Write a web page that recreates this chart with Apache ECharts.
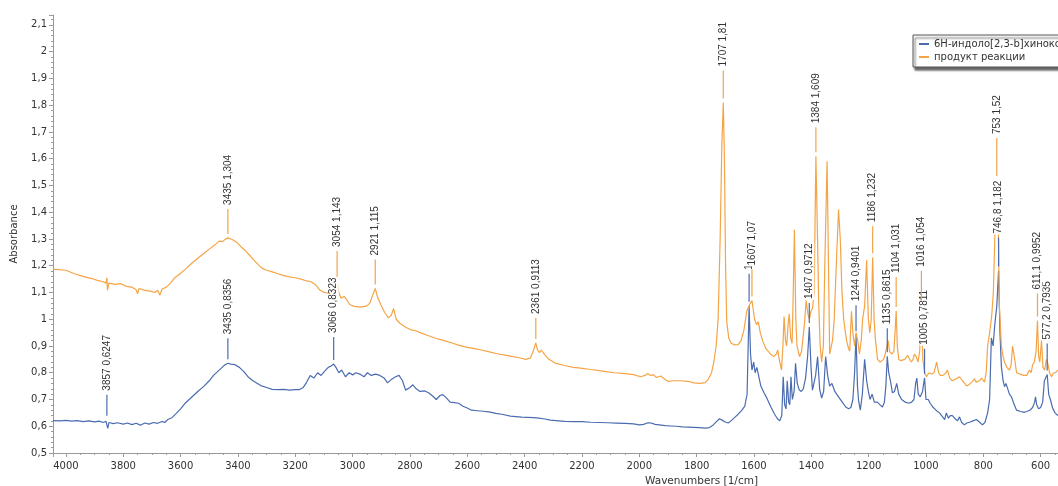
<!DOCTYPE html>
<html>
<head>
<meta charset="utf-8">
<script src="https://cdn.jsdelivr.net/npm/echarts@6/dist/echarts.min.js"></script>
<style>
html, body { margin: 0; background: #fff; }
#container { width: 1058px; height: 486px; }
</style>
</head>
<body>
<div id="container"></div>
<script>
// spectra, [wavenumber, absorbance]
var blueName = '6H-индоло[2,3-b]хиноксалин';
var orangeName = 'продукт реакции';

var blueSpectrum = [
    [4045,0.621],[4020,0.62],[4000,0.622],[3980,0.619],[3960,0.621],[3940,0.617],[3920,0.62],[3900,0.616],[3885,0.619],[3870,0.614],
    [3860,0.618],[3857,0.6247],[3854,0.592],[3850,0.614],[3835,0.61],[3820,0.613],[3800,0.608],[3785,0.612],[3770,0.606],[3755,0.611],
    [3740,0.604],[3725,0.612],[3710,0.608],[3695,0.614],[3680,0.611],[3665,0.618],[3655,0.614],[3645,0.625],[3630,0.632],[3615,0.648],
    [3600,0.665],[3585,0.685],[3570,0.7],[3555,0.715],[3540,0.73],[3520,0.748],[3500,0.77],[3485,0.79],[3470,0.805],[3455,0.82],
    [3445,0.83],[3435,0.8356],[3425,0.832],[3410,0.83],[3395,0.82],[3380,0.805],[3365,0.785],[3350,0.772],[3335,0.762],[3320,0.752],
    [3300,0.745],[3280,0.738],[3260,0.737],[3240,0.738],[3220,0.735],[3200,0.737],[3185,0.737],[3172,0.745],[3160,0.765],[3148,0.79],
    [3135,0.78],[3122,0.8],[3110,0.79],[3098,0.805],[3085,0.82],[3075,0.825],[3066,0.8323],[3058,0.82],[3048,0.8],[3038,0.81],
    [3025,0.785],[3012,0.8],[3000,0.792],[2988,0.8],[2975,0.795],[2960,0.785],[2948,0.8],[2935,0.79],[2920,0.795],[2905,0.79],
    [2890,0.78],[2878,0.762],[2865,0.775],[2850,0.785],[2838,0.79],[2826,0.77],[2815,0.735],[2800,0.745],[2790,0.755],[2778,0.74],
    [2765,0.73],[2748,0.732],[2735,0.725],[2720,0.712],[2708,0.7],[2695,0.715],[2685,0.718],[2672,0.705],[2660,0.69],[2645,0.688],
    [2630,0.686],[2615,0.675],[2600,0.668],[2585,0.66],[2565,0.658],[2545,0.656],[2525,0.654],[2500,0.648],[2475,0.644],[2450,0.638],
    [2430,0.636],[2410,0.634],[2390,0.633],[2370,0.632],[2350,0.63],[2330,0.627],[2310,0.623],[2290,0.621],[2260,0.618],[2230,0.617],
    [2200,0.617],[2170,0.615],[2140,0.614],[2110,0.613],[2080,0.612],[2050,0.611],[2020,0.609],[2000,0.605],[1985,0.607],[1970,0.613],
    [1958,0.612],[1945,0.607],[1930,0.605],[1910,0.602],[1890,0.601],[1870,0.6],[1850,0.598],[1830,0.597],[1810,0.596],[1790,0.595],
    [1770,0.593],[1755,0.595],[1742,0.605],[1730,0.618],[1720,0.628],[1710,0.622],[1700,0.616],[1690,0.612],[1680,0.62],[1668,0.632],
    [1655,0.645],[1642,0.66],[1632,0.675],[1624,0.72],[1617,1.05],[1612,0.87],[1607,0.81],[1601,0.84],[1596,0.8],[1590,0.82],
    [1584,0.79],[1576,0.75],[1565,0.725],[1555,0.705],[1540,0.67],[1528,0.645],[1518,0.628],[1510,0.62],[1503,0.64],[1498,0.785],
    [1493,0.68],[1488,0.665],[1484,0.77],[1479,0.69],[1475,0.68],[1471,0.785],[1466,0.7],[1460,0.73],[1455,0.835],[1449,0.76],
    [1442,0.735],[1435,0.73],[1428,0.74],[1420,0.78],[1413,0.86],[1407,0.9712],[1401,0.82],[1396,0.735],[1390,0.74],[1385,0.79],
    [1378,0.86],[1371,0.74],[1364,0.705],[1357,0.73],[1350,0.86],[1343,0.79],[1336,0.75],[1328,0.76],[1318,0.73],[1305,0.71],
    [1292,0.69],[1280,0.672],[1270,0.665],[1262,0.67],[1255,0.7],[1249,0.8],[1244,0.9401],[1239,0.75],[1235,0.695],[1229,0.66],
    [1222,0.72],[1214,0.85],[1207,0.77],[1201,0.73],[1195,0.7],[1188,0.72],[1180,0.69],[1170,0.69],[1160,0.68],[1152,0.672],
    [1145,0.69],[1140,0.75],[1135,0.8615],[1130,0.8],[1124,0.77],[1117,0.725],[1110,0.73],[1102,0.76],[1095,0.72],[1085,0.7],
    [1072,0.69],[1060,0.686],[1050,0.69],[1042,0.7],[1036,0.76],[1032,0.78],[1027,0.72],[1020,0.71],[1012,0.73],[1005,0.7811],
    [1000,0.7],[992,0.7],[985,0.685],[977,0.673],[965,0.66],[953,0.65],[942,0.635],[935,0.625],[929,0.65],[922,0.63],
    [915,0.64],[908,0.64],[900,0.63],[890,0.62],[883,0.635],[876,0.615],[866,0.605],[858,0.612],[848,0.615],[836,0.62],
    [824,0.625],[813,0.615],[803,0.605],[794,0.615],[785,0.65],[778,0.7],[772,0.93],[766,0.9],[760,0.98],[753,1.05],
    [746.8,1.182],[742,0.95],[737,0.823],[731,0.77],[726,0.748],[721,0.76],[716,0.76],[709,0.72],[702,0.71],[692,0.68],
    [684,0.66],[670,0.655],[658,0.652],[649,0.655],[638,0.66],[628,0.67],[621,0.69],[618,0.71],[614,0.68],[607,0.665],
    [600,0.67],[593,0.69],[587,0.77],[577.2,0.7935],[572,0.72],[566,0.7],[559,0.67],[550,0.65],[540,0.64]
];

var orangeSpectrum = [
    [4045,1.187],[4000,1.183],[3970,1.17],[3940,1.16],[3910,1.152],[3890,1.145],[3870,1.14],[3860,1.135],[3857,1.155],[3855,1.108],
    [3850,1.135],[3830,1.13],[3810,1.133],[3790,1.123],[3770,1.12],[3755,1.11],[3750,1.095],[3745,1.115],[3725,1.108],[3705,1.105],
    [3690,1.1],[3680,1.108],[3672,1.09],[3665,1.112],[3650,1.12],[3635,1.135],[3620,1.155],[3600,1.172],[3580,1.19],[3560,1.21],
    [3540,1.228],[3520,1.245],[3500,1.262],[3480,1.278],[3465,1.292],[3455,1.29],[3445,1.298],[3435,1.304],[3420,1.298],[3405,1.288],
    [3390,1.272],[3375,1.257],[3360,1.24],[3345,1.222],[3330,1.205],[3315,1.19],[3300,1.183],[3280,1.177],[3260,1.17],[3240,1.163],
    [3220,1.158],[3200,1.155],[3180,1.15],[3160,1.143],[3145,1.14],[3130,1.13],[3115,1.11],[3100,1.1],[3085,1.098],[3070,1.1],
    [3060,1.12],[3054,1.143],[3048,1.1],[3040,1.078],[3030,1.085],[3020,1.072],[3010,1.055],[2995,1.048],[2980,1.046],[2965,1.046],
    [2950,1.05],[2940,1.06],[2930,1.09],[2921,1.115],[2912,1.08],[2900,1.05],[2888,1.025],[2875,1.005],[2865,1.015],[2857,1.04],
    [2848,1.0],[2835,0.985],[2815,0.97],[2795,0.96],[2780,0.957],[2760,0.948],[2740,0.94],[2711,0.929],[2680,0.92],[2650,0.91],
    [2631,0.903],[2600,0.895],[2575,0.89],[2551,0.885],[2530,0.88],[2500,0.872],[2469,0.866],[2440,0.86],[2415,0.855],[2395,0.85],
    [2380,0.855],[2370,0.88],[2361,0.9113],[2355,0.885],[2348,0.875],[2342,0.885],[2330,0.868],[2315,0.85],[2294,0.836],[2260,0.827],
    [2230,0.82],[2204,0.817],[2170,0.812],[2140,0.808],[2110,0.803],[2086,0.8],[2050,0.797],[2020,0.793],[1995,0.785],[1980,0.79],
    [1971,0.797],[1960,0.79],[1950,0.792],[1940,0.782],[1925,0.788],[1910,0.775],[1900,0.768],[1880,0.77],[1856,0.77],[1830,0.768],
    [1810,0.762],[1787,0.76],[1770,0.763],[1760,0.775],[1748,0.8],[1740,0.84],[1732,0.9],[1725,1.0],[1718,1.3],[1712,1.65],
    [1707,1.81],[1703,1.6],[1699,1.2],[1695,0.99],[1688,0.93],[1680,0.91],[1667,0.904],[1655,0.905],[1645,0.92],[1635,0.96],
    [1625,1.03],[1615,1.055],[1607,1.07],[1598,1.0],[1591,0.98],[1585,0.99],[1578,0.95],[1570,0.92],[1558,0.89],[1545,0.873],
    [1532,0.86],[1522,0.87],[1517,0.885],[1510,0.84],[1504,0.81],[1499,0.9],[1495,1.01],[1490,0.92],[1486,0.9],[1481,0.98],
    [1477,1.02],[1472,0.93],[1467,0.91],[1463,1.1],[1459,1.334],[1454,1.0],[1450,0.9],[1441,0.86],[1434,0.88],[1430,0.92],
    [1424,0.98],[1418,1.07],[1412,1.02],[1407,1.0],[1401,1.03],[1396,1.04],[1390,1.1],[1384,1.609],[1379,1.345],[1374,1.05],
    [1369,0.9],[1364,0.84],[1358,0.9],[1353,1.2],[1345,1.59],[1340,1.2],[1336,0.87],[1330,0.9],[1326,0.92],[1320,1.0],
    [1313,1.2],[1305,1.41],[1299,1.3],[1293,1.1],[1287,1.0],[1281,0.95],[1277,0.92],[1270,0.89],[1266,0.88],[1260,1.03],
    [1255,0.95],[1249,0.9],[1244,0.95],[1238,0.92],[1232,0.87],[1226,0.92],[1221,1.0],[1214,1.05],[1207,1.22],[1201,1.0],
    [1196,0.95],[1191,1.0],[1186,1.232],[1181,1.0],[1176,0.92],[1169,0.85],[1160,0.84],[1155,0.837],[1148,0.85],[1142,0.87],
    [1136,0.9],[1132,0.92],[1127,0.88],[1120,0.87],[1112,0.88],[1108,0.95],[1104,1.031],[1100,0.9],[1095,0.85],[1088,0.845],
    [1082,0.84],[1074,0.85],[1064,0.865],[1057,0.85],[1051,0.84],[1045,0.85],[1040,0.87],[1034,0.86],[1028,0.84],[1022,0.88],
    [1016,1.054],[1011,0.85],[1005,0.8],[998,0.785],[990,0.8],[980,0.795],[972,0.8],[963,0.84],[956,0.8],[950,0.79],
    [940,0.79],[930,0.8],[925,0.81],[917,0.78],[908,0.77],[900,0.775],[890,0.78],[883,0.785],[873,0.77],[865,0.76],
    [858,0.75],[848,0.758],[840,0.765],[831,0.777],[825,0.765],[820,0.76],[813,0.77],[806,0.78],[800,0.775],[796,0.765],
    [790,0.8],[785,0.9],[778,0.95],[771,1.01],[765,1.1],[760,1.3],[753,1.52],[748,1.35],[744,1.05],[737,0.9],
    [731,0.86],[726,0.84],[718,0.82],[709,0.81],[703,0.83],[698,0.9],[692,0.86],[684,0.8],[672,0.795],[660,0.79],
    [649,0.79],[639,0.81],[633,0.8],[628,0.83],[622,0.84],[616,0.88],[611.1,0.9952],[607,0.86],[603,0.84],[597,0.92],
    [592,0.82],[586,0.81],[580,0.85],[574,0.83],[569,0.8],[562,0.785],[555,0.8],[548,0.8],[540,0.81]
];

// labelled peaks, [wavenumber, absorbance]
var bluePeaks = [[3857,0.6247],[3435,0.8356],[3066,0.8323],[1617,1.05],[1407,0.9712],[1244,0.9401],[1135,0.8615],[1005,0.7811],[746.8,1.182],[577.2,0.7935]];
var orangePeaks = [[3435,1.304],[3054,1.143],[2921,1.115],[2361,0.9113],[1707,1.81],[1607,1.07],[1384,1.609],[1186,1.232],[1104,1.031],[1016,1.054],[753,1.52],[611.1,0.9952]];

// label layout: leader line lengths (px) and white backing width around the text
var blueLeader = [21,21,23,28,20,26,24,25,29,27];
var orangeLeader = [25,26,25,21,28,27,25,27,30,30,38,23];
var bluePad = [0,0,0,0,0,0,0,0,0,0];
var orangePad = [0,0,0,0,0,3,0,0,0,0,0,0];

var BLUE = '#4b6cb0';
var ORANGE = '#f5a445';

var myChart = echarts.init(document.getElementById('container'));

function comma(v) {
    return String(v).replace('.', ',');
}

function peakLabels(peaks, leaders, pads, color, z) {
    return {
        type: 'custom',
        coordinateSystem: 'cartesian2d',
        encode: {x: 0, y: 1},
        data: peaks,
        z: z,
        silent: true,
        renderItem: function (params, api) {
            var wn = api.value(0), ab = api.value(1);
            var pt = api.coord([wn, ab]);
            var y1 = pt[1] - 4;
            var y2 = y1 - leaders[params.dataIndex];
            return {
                type: 'group',
                children: [
                    {type: 'line', shape: {x1: pt[0], y1: y1, x2: pt[0], y2: y2}, style: {stroke: color, lineWidth: 1.2}},
                    {
                        type: 'text', x: pt[0], y: y2 - 3, rotation: Math.PI / 2,
                        style: {
                            text: comma(wn) + ' ' + comma(ab), fill: '#333',
                            font: '10px "Liberation Sans"', align: 'left', verticalAlign: 'middle',
                            backgroundColor: '#fff', padding: [pads[params.dataIndex], 1]
                        }
                    }
                ]
            };
        }
    };
}

var axisColor = '#9a9a9a';

option = {
    animation: false,
    textStyle: {fontFamily: 'DejaVu Sans'},
    grid: {left: 53, top: 15, width: 1045, height: 438, outerBoundsMode: 'none', containLabel: false},
    legend: {
        data: [blueName, orangeName],
        orient: 'vertical',
        left: 913,
        top: 35,
        icon: 'rect',
        itemWidth: 10,
        itemHeight: 2,
        itemGap: 3,
        padding: [4, 6, 5, 6],
        backgroundColor: '#fff',
        borderColor: '#555',
        borderWidth: 1,
        shadowColor: 'rgba(0,0,0,0.6)',
        shadowBlur: 2,
        shadowOffsetX: 2,
        shadowOffsetY: 3,
        textStyle: {fontSize: 10, color: '#333', fontFamily: 'DejaVu Sans'}
    },
    xAxis: {
        type: 'value',
        inverse: true,
        min: 400,
        max: 4045,
        interval: 200,
        name: 'Wavenumbers [1/cm]',
        nameLocation: 'middle',
        nameGap: 19,
        nameTextStyle: {fontSize: 10.5, color: '#333', padding: [0, 0, 0, 252]},
        axisLine: {lineStyle: {color: axisColor}},
        axisTick: {length: 4, lineStyle: {color: axisColor}},
        minorTick: {show: true, splitNumber: 4, length: 2, lineStyle: {color: axisColor}},
        splitLine: {show: false},
        axisLabel: {
            color: '#333', fontSize: 10, margin: 8,
            formatter: function (v) { return v % 200 === 0 ? String(v) : ''; }
        }
    },
    yAxis: {
        type: 'value',
        min: 0.5,
        max: 2.137,
        interval: 0.1,
        name: 'Absorbance',
        nameLocation: 'middle',
        nameRotate: 90,
        nameGap: 34,
        nameTextStyle: {fontSize: 10, color: '#333'},
        axisLine: {show: true, lineStyle: {color: axisColor}},
        axisTick: {show: true, length: 4, lineStyle: {color: axisColor}},
        minorTick: {show: true, splitNumber: 5, length: 2, lineStyle: {color: axisColor}},
        splitLine: {show: false},
        axisLabel: {
            color: '#333', fontSize: 10, margin: 6,
            formatter: function (v) {
                var r = Math.round(v * 10) / 10;
                return Math.abs(v - r) < 1e-6 ? comma(r) : '';
            }
        }
    },
    series: [
        {name: blueName, type: 'line', data: blueSpectrum, showSymbol: false, color: BLUE, lineStyle: {width: 1.2}, z: 2},
        {name: orangeName, type: 'line', data: orangeSpectrum, showSymbol: false, color: ORANGE, lineStyle: {width: 1.2}, z: 2},
        peakLabels(bluePeaks, blueLeader, bluePad, BLUE, 3),
        peakLabels(orangePeaks, orangeLeader, orangePad, ORANGE, 4)
    ]
};
myChart.setOption(option);
</script>
</body>
</html>
